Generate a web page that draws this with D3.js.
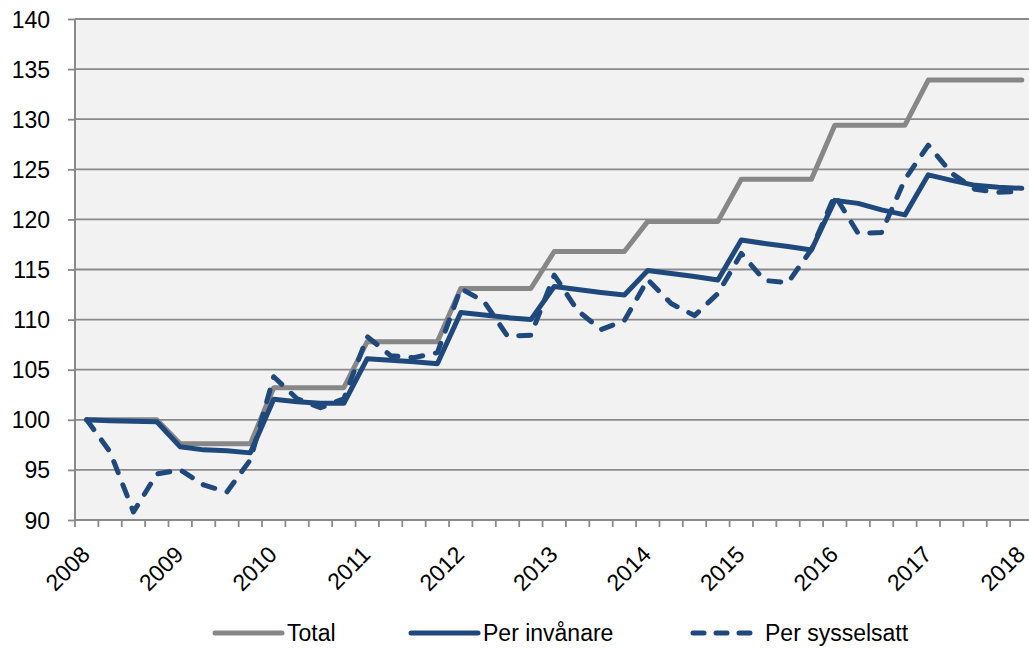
<!DOCTYPE html>
<html>
<head>
<meta charset="utf-8">
<script src="https://cdn.jsdelivr.net/npm/d3@7"></script>
<style>
  body { margin: 0; background: #fff; }
  text { font-family: "Liberation Sans", Arial, sans-serif; fill: #000; }
</style>
</head>
<body>
<div id="chart"></div>
<script>
// quarterly index, 2008 Q1 = 100
const years = ['2008', '2009', '2010', '2011', '2012', '2013', '2014', '2015', '2016', '2017', '2018'];
const quarters = ['K1', 'K2', 'K3', 'K4'];
const yTicks = [90, 95, 100, 105, 110, 115, 120, 125, 130, 135, 140];

const total = [
  100, 100, 100, 100,
  97.6, 97.6, 97.6, 97.6,
  103.2, 103.2, 103.2, 103.2,
  107.8, 107.8, 107.8, 107.8,
  113.1, 113.1, 113.1, 113.1,
  116.8, 116.8, 116.8, 116.8,
  119.8, 119.8, 119.8, 119.8,
  124.0, 124.0, 124.0, 124.0,
  129.4, 129.4, 129.4, 129.4,
  133.9, 133.9, 133.9, 133.9, 133.9
];
const perInvanare = [
  100, 99.9, 99.85, 99.8,
  97.3, 97.0, 96.9, 96.7,
  102.05, 101.8, 101.65, 101.65,
  106.1, 105.95, 105.8, 105.6,
  110.7, 110.45, 110.2, 110.0,
  113.3, 113.0, 112.7, 112.45,
  114.9, 114.6, 114.3, 113.95,
  117.95, 117.6, 117.3, 116.95,
  121.9, 121.6, 120.95, 120.45,
  124.45, 123.9, 123.4, 123.2, 123.1
];
const perSysselsatt = [
  100, 96.8, 90.8, 94.6,
  95.0, 93.5, 92.8, 96.0,
  104.3, 102.1, 101.2, 102.1,
  108.3, 106.4, 106.2, 106.7,
  113.1, 111.8, 108.35, 108.45,
  114.45, 110.9, 109.0, 109.9,
  114.0, 111.6, 110.4, 112.6,
  116.6, 113.9, 113.7, 117.0,
  122.4, 118.6, 118.7, 124.0,
  127.4, 124.6, 123.0, 122.7, 122.8
];

const categories = years.flatMap((yr) => quarters.map((q) => yr + q)).slice(0, total.length);

const width = 1029;
const height = 648;
const plotLeft = 75;
const plotRight = 1033.5;
const plotTop = 19;
const plotBottom = 520;
const gridColor = '#8a8a8a';

const svg = d3.select('#chart').append('svg')
  .attr('width', width)
  .attr('height', height);

const x = d3.scaleBand().domain(categories).range([plotLeft, plotRight]);
const y = d3.scaleLinear().domain([90, 140]).range([plotBottom, plotTop]);
const cx = (c) => x(c) + x.bandwidth() / 2;

// plot background
svg.append('rect')
  .attr('x', plotLeft).attr('y', plotTop)
  .attr('width', plotRight - plotLeft).attr('height', plotBottom - plotTop)
  .attr('fill', '#f2f2f2');

// gridlines + y axis
const yAxis = svg.append('g')
  .attr('transform', `translate(${plotLeft},0)`)
  .call(d3.axisLeft(y).tickValues(yTicks).tickSize(7).tickPadding(18));
yAxis.select('.domain').remove();
yAxis.selectAll('.tick line').attr('stroke', gridColor).attr('stroke-width', 1.8);
yAxis.selectAll('.tick text').attr('font-size', 23).attr('dy', '0.35em');

svg.append('g').selectAll('line')
  .data(yTicks)
  .join('line')
  .attr('x1', plotLeft).attr('x2', plotRight)
  .attr('y1', (d) => y(d)).attr('y2', (d) => y(d))
  .attr('stroke', gridColor)
  .attr('stroke-width', 1.8);

svg.append('line')
  .attr('x1', plotLeft).attr('x2', plotLeft)
  .attr('y1', plotTop).attr('y2', plotBottom)
  .attr('stroke', gridColor).attr('stroke-width', 2);

// x axis: ticks between categories
const bounds = categories.map((c) => x(c)).concat([plotRight]);
svg.append('g').selectAll('line')
  .data(bounds)
  .join('line')
  .attr('x1', (d) => d).attr('x2', (d) => d)
  .attr('y1', plotBottom).attr('y2', plotBottom + 7)
  .attr('stroke', gridColor).attr('stroke-width', 1.8);

svg.append('line')
  .attr('x1', plotLeft).attr('x2', plotRight)
  .attr('y1', plotBottom).attr('y2', plotBottom)
  .attr('stroke', gridColor).attr('stroke-width', 2);

svg.append('g').selectAll('text')
  .data(categories.filter((c) => c.endsWith('K1')))
  .join('text')
  .attr('transform', (c) => `translate(${cx(c) + 4.7},556) rotate(-45)`)
  .attr('text-anchor', 'end')
  .attr('font-size', 23)
  .text((c) => c.slice(0, 4));

// series
const series = [
  { name: 'Total', values: total, color: '#878787', dash: null },
  { name: 'Per invånare', values: perInvanare, color: '#1f497d', dash: null },
  { name: 'Per sysselsatt', values: perSysselsatt, color: '#1f497d', dash: '12,13' }
];

const line = d3.line()
  .x((d, i) => cx(categories[i]))
  .y((d) => y(d));

svg.append('g').selectAll('path')
  .data(series)
  .join('path')
  .attr('d', (s) => line(s.values))
  .attr('fill', 'none')
  .attr('stroke', (s) => s.color)
  .attr('stroke-width', 5)
  .attr('stroke-linejoin', 'round')
  .attr('stroke-linecap', 'round')
  .attr('stroke-dasharray', (s) => s.dash);

// legend
const legendX = [212, 408, 690];
const legend = svg.append('g').selectAll('g')
  .data(series)
  .join('g')
  .attr('transform', (s, i) => `translate(${legendX[i]},633)`);

legend.append('line')
  .attr('x1', 3).attr('x2', 70)
  .attr('stroke', (s) => s.color)
  .attr('stroke-width', 5)
  .attr('stroke-linecap', 'round')
  .attr('stroke-dasharray', (s) => s.dash ? '11,12' : null);

legend.append('text')
  .attr('x', 75)
  .attr('y', 8)
  .attr('font-size', 23)
  .text((s) => s.name);
</script>
</body>
</html>
